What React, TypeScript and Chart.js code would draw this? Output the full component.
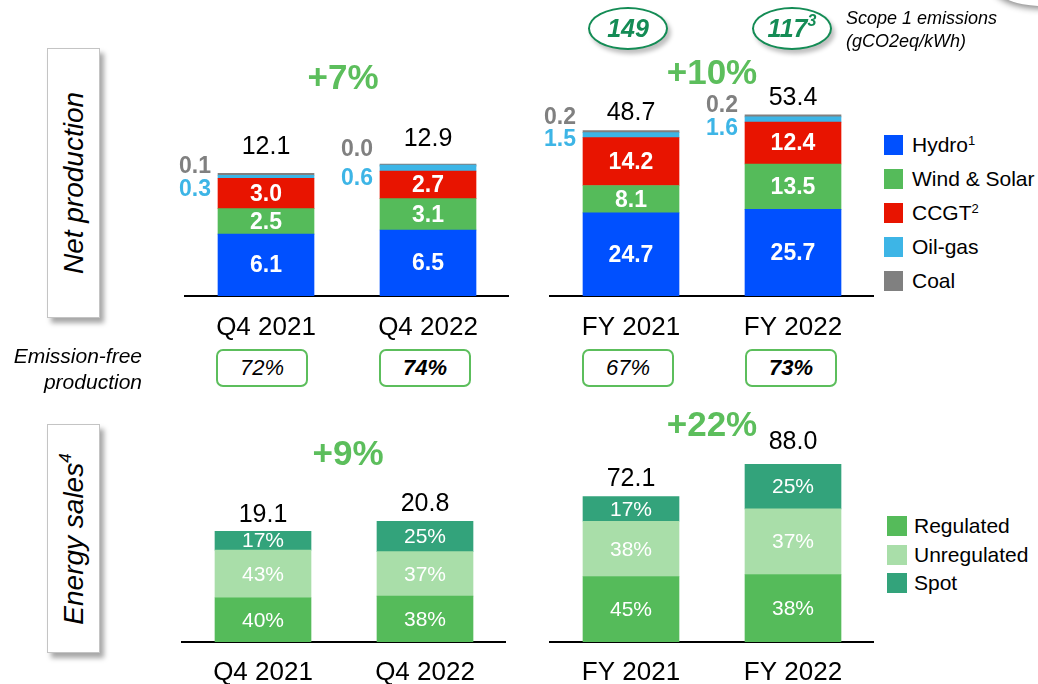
import React, { useEffect, useRef } from "react";
import { Chart, registerables } from "chart.js";

Chart.register(...registerables);

const FONT = "'Liberation Sans', Arial, Helvetica, sans-serif";

// ---------- Data ----------
const q4Categories = ["Q4 2021", "Q4 2022"];
const fyCategories = ["FY 2021", "FY 2022"];

const productionSeries = ["Hydro", "Wind & Solar", "CCGT", "Oil-gas", "Coal"];
const productionSup = ["1", "", "2", "", ""];
const productionColors = ["#0050FF", "#55BB5A", "#E81400", "#3DB5E6", "#808080"];

const q4Hydro = [6.1, 6.5];
const q4WindSolar = [2.5, 3.1];
const q4Ccgt = [3.0, 2.7];
const q4OilGas = [0.3, 0.6];
const q4Coal = [0.1, 0.0];
const q4ProductionTotal = [12.1, 12.9];

const fyHydro = [24.7, 25.7];
const fyWindSolar = [8.1, 13.5];
const fyCcgt = [14.2, 12.4];
const fyOilGas = [1.5, 1.6];
const fyCoal = [0.2, 0.2];
const fyProductionTotal = [48.7, 53.4];

const salesSeries = ["Regulated", "Unregulated", "Spot"];
const salesColors = ["#55BB5A", "#A9DEA9", "#33A37B"];

const q4SalesTotal = [19.1, 20.8];
const q4RegulatedPct = [40, 38];
const q4UnregulatedPct = [43, 37];
const q4SpotPct = [17, 25];

const fySalesTotal = [72.1, 88.0];
const fyRegulatedPct = [45, 38];
const fyUnregulatedPct = [38, 37];
const fySpotPct = [17, 25];

const growthLabels = ["+7%", "+10%", "+9%", "+22%"];
const emissionFreeShare = ["72%", "74%", "67%", "73%"];
const scope1Emissions = ["149", "117"];

// ---------- Label plugin ----------
const valueLabelPlugin = {
  id: "valueLabels",
  afterDatasetsDraw(chart: any, _args: any, opts: any) {
    const ctx = chart.ctx;
    const area = chart.chartArea;
    const xScale = chart.scales.x;
    const n = chart.data.datasets.length;
    const lastMeta = chart.getDatasetMeta(n - 1);
    ctx.save();
    ctx.textAlign = "center";
    ctx.textBaseline = "middle";

    chart.data.datasets.forEach((ds: any, di: number) => {
      const meta = chart.getDatasetMeta(di);
      meta.data.forEach((bar: any, i: number) => {
        const p = bar.getProps(["x", "y", "base", "width"], true);
        const top = lastMeta.data[i].getProps(["y"], true).y;
        if (opts.kind === "production") {
          const v = ds.data[i];
          if (di <= 2) {
            ctx.font = `bold 23px ${FONT}`;
            ctx.fillStyle = "#ffffff";
            ctx.textAlign = "center";
            ctx.fillText(v.toFixed(1), p.x, (p.y + p.base) / 2 + 1);
          } else {
            ctx.font = `bold 23px ${FONT}`;
            ctx.fillStyle = ds.backgroundColor;
            ctx.textAlign = "right";
            const dy = di === 3 ? opts.blueDy[i] : opts.grayDy[i];
            ctx.fillText(v.toFixed(1), p.x - p.width / 2 - 7, top + dy);
          }
        } else {
          ctx.font = `21px ${FONT}`;
          ctx.fillStyle = "#ffffff";
          ctx.textAlign = "center";
          ctx.fillText(opts.pcts[di][i] + "%", p.x, (p.y + p.base) / 2 + 1);
        }
      });
    });

    // totals
    ctx.fillStyle = "#000000";
    ctx.font = `25px ${FONT}`;
    ctx.textAlign = "center";
    lastMeta.data.forEach((bar: any, i: number) => {
      const p = bar.getProps(["x", "y"], true);
      ctx.fillText(opts.totals[i].toFixed(1), p.x, p.y - opts.totalDy[i]);
    });

    // category labels
    ctx.font = `26px ${FONT}`;
    chart.data.labels.forEach((lab: string, i: number) => {
      ctx.fillText(lab, xScale.getPixelForValue(i), area.bottom + opts.catDy);
    });
    ctx.restore();
  },
};

type PanelProps = {
  axisLeft: number;
  top: number;
  axisWidth: number;
  baseline: number;
  bottomPad: number;
  labels: string[];
  datasets: any[];
  yMax: number;
  labelOpts: any;
};

const LEFT_PAD = 45;

function BarPanel(props: PanelProps) {
  const ref = useRef<HTMLCanvasElement>(null);
  const width = props.axisWidth + LEFT_PAD;
  const height = props.baseline - props.top + props.bottomPad;
  useEffect(() => {
    const chart = new Chart(ref.current as HTMLCanvasElement, {
      type: "bar",
      data: { labels: props.labels, datasets: props.datasets },
      options: {
        animation: false,
        responsive: false,
        maintainAspectRatio: false,
        layout: { padding: { top: 0, left: LEFT_PAD, right: 0, bottom: props.bottomPad } },
        plugins: {
          legend: { display: false },
          tooltip: { enabled: false },
          valueLabels: props.labelOpts,
        } as any,
        scales: {
          x: {
            stacked: true,
            offset: true,
            grid: { display: false, drawTicks: false, tickLength: 0 },
            border: { display: true, color: "#000000", width: 2 },
            ticks: { display: false, padding: 0 },
          },
          y: { stacked: true, display: false, min: 0, max: props.yMax },
        },
      },
      plugins: [valueLabelPlugin as any],
    });
    return () => chart.destroy();
  }, []);
  return (
    <canvas
      ref={ref}
      width={width}
      height={height}
      style={{ position: "absolute", left: props.axisLeft - LEFT_PAD, top: props.top, width, height }}
    />
  );
}

function prodDatasets(series: number[][]) {
  return series.map((d, i) => ({
    label: productionSeries[i],
    data: d,
    backgroundColor: productionColors[i],
    barThickness: 96,
    minBarLength: i === 4 ? 2 : 0,
  }));
}

function salesDatasets(totals: number[], pcts: number[][]) {
  return pcts.map((p, i) => ({
    label: salesSeries[i],
    data: p.map((v, j) => (totals[j] * v) / 100),
    backgroundColor: salesColors[i],
    barThickness: 96,
  }));
}

const abs = (l: number, t: number, extra: any = {}) => ({ position: "absolute" as const, left: l, top: t, ...extra });

function SideBox({ top, height, children }: any) {
  return (
    <div
      style={abs(47, top, {
        width: 53,
        height,
        boxSizing: "border-box",
        background: "#fff",
        border: "1.5px solid #C4C4C4",
        boxShadow: "4px 5px 5px rgba(0,0,0,0.35)",
      })}
    >
      <div
        style={{
          position: "absolute",
          left: "50%",
          top: "50%",
          transform: "translate(-50%, -50%) rotate(-90deg)",
          whiteSpace: "nowrap",
          fontStyle: "italic",
          fontSize: 28,
          color: "#000",
        }}
      >
        {children}
      </div>
    </div>
  );
}

function EfBox({ cx, bold, text }: any) {
  return (
    <div
      style={abs(cx - 46, 349, {
        width: 92,
        height: 38,
        boxSizing: "border-box",
        border: "2px solid #5CBE5C",
        borderRadius: 7,
        background: "#fff",
        display: "flex",
        alignItems: "center",
        justifyContent: "center",
        fontStyle: "italic",
        fontWeight: bold ? "bold" : "normal",
        fontSize: 22,
      })}
    >
      {text}
    </div>
  );
}

function Ellipse({ cx, children }: any) {
  return (
    <div
      style={abs(cx - 40, 7, {
        width: 80,
        height: 43,
        boxSizing: "border-box",
        border: "2px solid #148C55",
        borderRadius: "50%",
        background: "#fff",
        boxShadow: "3px 4px 4px rgba(0,0,0,0.25)",
        display: "flex",
        alignItems: "center",
        justifyContent: "center",
        fontStyle: "italic",
        fontWeight: "bold",
        fontSize: 25,
        color: "#148C55",
      })}
    >
      {children}
    </div>
  );
}

function Growth({ cx, cy, text }: any) {
  return (
    <div
      style={abs(cx - 60, cy - 20, {
        width: 120,
        height: 40,
        lineHeight: "40px",
        textAlign: "center",
        fontWeight: "bold",
        fontSize: 35,
        color: "#5CBE5C",
      })}
    >
      {text}
    </div>
  );
}

export default function App() {
  const prodQ4 = [q4Hydro, q4WindSolar, q4Ccgt, q4OilGas, q4Coal];
  const prodFY = [fyHydro, fyWindSolar, fyCcgt, fyOilGas, fyCoal];
  const salesQ4 = [q4RegulatedPct, q4UnregulatedPct, q4SpotPct];
  const salesFY = [fyRegulatedPct, fyUnregulatedPct, fySpotPct];

  const topLegendY = [145, 179, 213, 247, 281];
  const botLegendY = [526, 555, 583];

  return (
    <div
      style={{
        position: "fixed",
        left: 0,
        top: 0,
        width: 1038,
        height: 684,
        overflow: "hidden",
        background: "#fff",
        fontFamily: FONT,
        color: "#000",
      }}
    >
      {/* corner shadow shape */}
      <div
        style={abs(992, -40, {
          width: 100,
          height: 46,
          borderRadius: "50%",
          background: "#fff",
          boxShadow: "0px 3px 6px rgba(0,0,0,0.45)",
        })}
      />

      <SideBox top={48} height={270}>Net production</SideBox>
      <SideBox top={424} height={229}>
        Energy sales<sup style={{ fontSize: 17, verticalAlign: "top", position: "relative", top: -2 }}>4</sup>
      </SideBox>

      <BarPanel
        axisLeft={185}
        top={40}
        axisWidth={324}
        baseline={296}
        bottomPad={50}
        labels={q4Categories}
        datasets={prodDatasets(prodQ4)}
        yMax={25.22}
        labelOpts={{ kind: "production", totals: q4ProductionTotal, totalDy: [26, 25], grayDy: [-7, -14], blueDy: [16, 15], catDy: 32 }}
      />
      <BarPanel
        axisLeft={550}
        top={40}
        axisWidth={324}
        baseline={296}
        bottomPad={50}
        labels={fyCategories}
        datasets={prodDatasets(prodFY)}
        yMax={76}
        labelOpts={{ kind: "production", totals: fyProductionTotal, totalDy: [18, 17], grayDy: [-13, -9], blueDy: [9, 14], catDy: 32 }}
      />
      <BarPanel
        axisLeft={182}
        top={420}
        axisWidth={324}
        baseline={642}
        bottomPad={42}
        labels={q4Categories}
        datasets={salesDatasets(q4SalesTotal, salesQ4)}
        yMax={38.3}
        labelOpts={{ kind: "sales", totals: q4SalesTotal, pcts: salesQ4, totalDy: [16, 17], catDy: 31 }}
      />
      <BarPanel
        axisLeft={550}
        top={420}
        axisWidth={324}
        baseline={642}
        bottomPad={42}
        labels={fyCategories}
        datasets={salesDatasets(fySalesTotal, salesFY)}
        yMax={110}
        labelOpts={{ kind: "sales", totals: fySalesTotal, pcts: salesFY, totalDy: [17, 22], catDy: 31 }}
      />

      <Growth cx={343} cy={77} text={growthLabels[0]} />
      <Growth cx={712} cy={72} text={growthLabels[1]} />
      <Growth cx={348} cy={453} text={growthLabels[2]} />
      <Growth cx={712} cy={424} text={growthLabels[3]} />

      <Ellipse cx={628}>{scope1Emissions[0]}</Ellipse>
      <Ellipse cx={792}>
        {scope1Emissions[1]}
        <span style={{ fontSize: 16, position: "relative", top: -8 }}>3</span>
      </Ellipse>
      <div style={abs(846, 7, { fontStyle: "italic", fontSize: 18, lineHeight: "23px", whiteSpace: "nowrap" })}>
        Scope 1 emissions
        <br />
        (gCO2eq/kWh)
      </div>

      <div
        style={{
          position: "absolute",
          right: 1038 - 142,
          top: 343,
          textAlign: "right",
          fontStyle: "italic",
          fontSize: 21,
          lineHeight: "26px",
          whiteSpace: "nowrap",
        }}
      >
        Emission-free
        <br />
        production
      </div>
      <EfBox cx={262} text={emissionFreeShare[0]} />
      <EfBox cx={425} text={emissionFreeShare[1]} bold />
      <EfBox cx={628} text={emissionFreeShare[2]} />
      <EfBox cx={791} text={emissionFreeShare[3]} bold />

      {productionSeries.map((s, i) => (
        <div key={s} style={abs(884, topLegendY[i] - 10, { display: "flex", alignItems: "center", height: 20 })}>
          <div style={{ width: 19, height: 20, background: productionColors[i], marginRight: 9 }} />
          <span style={{ fontSize: 21, whiteSpace: "nowrap" }}>
            {s}
            {productionSup[i] && (
              <span style={{ fontSize: 13, position: "relative", top: -7 }}>{productionSup[i]}</span>
            )}
          </span>
        </div>
      ))}

      {salesSeries.map((s, i) => (
        <div key={s} style={abs(887, botLegendY[i] - 10, { display: "flex", alignItems: "center", height: 20 })}>
          <div style={{ width: 20, height: 20, background: salesColors[i], marginRight: 7 }} />
          <span style={{ fontSize: 21, whiteSpace: "nowrap" }}>{s}</span>
        </div>
      ))}
    </div>
  );
}
